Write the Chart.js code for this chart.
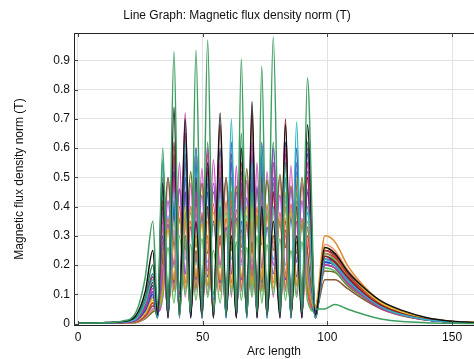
<!DOCTYPE html>
<html>
<head>
<meta charset="utf-8">
<script src="https://cdn.jsdelivr.net/npm/chart.js@4.4.1/dist/chart.umd.min.js"></script>
<style>
html,body{margin:0;padding:0;background:#fff;}
#wrap{width:474px;height:359px;}
</style>
</head>
<body>
<div id="wrap"><canvas id="c" width="474" height="359"></canvas></div>
<script>
// Arc length sample positions (tails, peaks and minima)
const arcLength = [0,10,18,23,27,30,31.9,34,36.1,38.5,40.7,43,45.2,47.3,49.7,52,54.3,57,59.4,61.5,63.5,65.5,67.7,69.8,71.8,73.7,75.8,78.3,81,83.2,85.4,87.7,89.8,92,95.2,99,103,108,115,122,130,140,150,160];

const xTicks = [0,50,100,150];
const yTicks = [0,0.1,0.2,0.3,0.4,0.5,0.6,0.7,0.8,0.9];

// Series values (T)
const s01 = [0.002,0.003,0.009,0.035,0.16,0.35,0.06,0.60,0.04,0.93,0.03,0.30,0.04,0.935,0.03,0.97,0.04,0.40,0.03,0.50,0.04,0.905,0.03,0.45,0.04,0.88,0.03,0.98,0.04,0.55,0.03,0.45,0.04,0.84,0.05,0.05,0.065,0.05,0.03,0.015,0.007,0.003,0.001,0.0];
const s02 = [0.002,0.003,0.007,0.025,0.11,0.25,0.03,0.48,0.02,0.74,0.03,0.70,0.02,0.35,0.03,0.55,0.02,0.72,0.03,0.30,0.02,0.60,0.03,0.76,0.02,0.40,0.03,0.35,0.02,0.68,0.03,0.30,0.02,0.68,0.03,0.26,0.24,0.18,0.12,0.075,0.045,0.02,0.008,0.003];
const s03 = [0.001,0.002,0.005,0.014,0.07,0.15,0.02,0.56,0.03,0.45,0.02,0.62,0.03,0.60,0.02,0.50,0.03,0.45,0.02,0.70,0.03,0.40,0.02,0.55,0.03,0.60,0.02,0.40,0.03,0.50,0.02,0.69,0.03,0.40,0.02,0.22,0.20,0.15,0.095,0.055,0.03,0.013,0.005,0.002];
const s04 = [0.001,0.002,0.004,0.011,0.055,0.12,0.04,0.35,0.02,0.50,0.03,0.72,0.02,0.45,0.04,0.60,0.02,0.55,0.03,0.40,0.02,0.50,0.04,0.62,0.02,0.45,0.03,0.55,0.02,0.60,0.04,0.35,0.02,0.55,0.03,0.20,0.19,0.14,0.09,0.05,0.028,0.012,0.005,0.002];
const s05 = [0.001,0.002,0.004,0.012,0.06,0.14,0.03,0.42,0.04,0.62,0.02,0.65,0.03,0.50,0.02,0.40,0.03,0.68,0.04,0.35,0.03,0.45,0.02,0.72,0.03,0.50,0.04,0.45,0.03,0.70,0.02,0.40,0.03,0.50,0.02,0.23,0.21,0.16,0.10,0.06,0.034,0.015,0.006,0.002];
const s06 = [0.001,0.002,0.003,0.009,0.045,0.10,0.02,0.30,0.03,0.40,0.04,0.50,0.02,0.55,0.03,0.45,0.04,0.50,0.02,0.62,0.03,0.35,0.04,0.58,0.02,0.62,0.03,0.50,0.04,0.55,0.02,0.60,0.03,0.45,0.04,0.21,0.20,0.15,0.095,0.055,0.03,0.013,0.005,0.002];
const s07 = [0.001,0.001,0.003,0.008,0.035,0.08,0.05,0.30,0.06,0.35,0.05,0.40,0.06,0.30,0.05,0.35,0.06,0.42,0.05,0.30,0.06,0.38,0.05,0.40,0.06,0.30,0.05,0.35,0.06,0.45,0.05,0.50,0.06,0.40,0.05,0.26,0.24,0.18,0.115,0.068,0.038,0.017,0.007,0.003];
const s08 = [0.001,0.002,0.003,0.009,0.04,0.09,0.06,0.25,0.05,0.30,0.07,0.35,0.05,0.40,0.06,0.30,0.05,0.35,0.07,0.45,0.05,0.30,0.06,0.35,0.05,0.42,0.07,0.38,0.05,0.40,0.06,0.45,0.05,0.35,0.06,0.30,0.28,0.20,0.125,0.072,0.04,0.018,0.007,0.003];
const s09 = [0.001,0.002,0.004,0.010,0.05,0.11,0.03,0.38,0.02,0.55,0.04,0.45,0.03,0.60,0.02,0.50,0.04,0.40,0.03,0.55,0.02,0.48,0.04,0.50,0.03,0.55,0.02,0.60,0.04,0.45,0.03,0.55,0.02,0.60,0.04,0.22,0.21,0.155,0.098,0.057,0.032,0.014,0.005,0.002];
const s10 = [0.001,0.001,0.003,0.007,0.03,0.07,0.04,0.28,0.03,0.38,0.05,0.30,0.04,0.45,0.03,0.58,0.05,0.30,0.04,0.42,0.03,0.55,0.05,0.35,0.04,0.48,0.03,0.40,0.05,0.35,0.04,0.42,0.03,0.30,0.05,0.25,0.23,0.17,0.105,0.06,0.034,0.015,0.006,0.002];
const s11 = [0.002,0.003,0.006,0.019,0.09,0.20,0.03,0.55,0.02,0.42,0.03,0.38,0.02,0.50,0.03,0.62,0.02,0.48,0.03,0.36,0.02,0.65,0.03,0.40,0.02,0.50,0.03,0.62,0.02,0.40,0.03,0.50,0.02,0.62,0.03,0.20,0.19,0.14,0.09,0.052,0.029,0.013,0.005,0.002];
const s12 = [0.001,0.001,0.002,0.005,0.025,0.06,0.05,0.22,0.06,0.28,0.05,0.35,0.04,0.25,0.06,0.30,0.05,0.38,0.04,0.28,0.06,0.32,0.05,0.28,0.04,0.36,0.06,0.30,0.05,0.32,0.04,0.28,0.06,0.33,0.04,0.15,0.15,0.12,0.08,0.048,0.027,0.012,0.005,0.002];
const s13 = [0.001,0.001,0.002,0.004,0.022,0.05,0.06,0.20,0.05,0.32,0.06,0.25,0.05,0.35,0.06,0.28,0.05,0.30,0.06,0.35,0.05,0.25,0.06,0.30,0.05,0.35,0.06,0.28,0.05,0.30,0.06,0.35,0.05,0.28,0.06,0.20,0.19,0.14,0.09,0.052,0.029,0.013,0.005,0.002];
const s14 = [0.001,0.001,0.003,0.007,0.032,0.07,0.02,0.32,0.04,0.42,0.03,0.38,0.05,0.48,0.03,0.40,0.02,0.52,0.04,0.38,0.03,0.45,0.05,0.42,0.03,0.38,0.02,0.48,0.04,0.42,0.03,0.38,0.05,0.50,0.03,0.24,0.22,0.165,0.105,0.06,0.034,0.015,0.006,0.002];
const s15 = [0.001,0.002,0.005,0.013,0.06,0.13,0.02,0.40,0.03,0.52,0.02,0.58,0.03,0.42,0.02,0.48,0.03,0.60,0.02,0.45,0.03,0.52,0.02,0.50,0.03,0.58,0.02,0.45,0.03,0.62,0.02,0.50,0.03,0.58,0.02,0.25,0.235,0.175,0.115,0.07,0.04,0.018,0.007,0.003];
const s16 = [0.001,0.001,0.003,0.009,0.04,0.09,0.04,0.33,0.03,0.40,0.05,0.44,0.03,0.38,0.04,0.45,0.03,0.40,0.05,0.50,0.04,0.42,0.03,0.48,0.05,0.40,0.03,0.45,0.04,0.50,0.05,0.40,0.03,0.46,0.04,0.21,0.20,0.15,0.095,0.055,0.03,0.013,0.005,0.002];
const s17 = [0.001,0.001,0.001,0.004,0.02,0.045,0.05,0.12,0.32,0.15,0.36,0.12,0.40,0.16,0.34,0.13,0.38,0.15,0.42,0.12,0.35,0.16,0.40,0.13,0.37,0.15,0.41,0.12,0.36,0.16,0.39,0.13,0.35,0.15,0.05,0.22,0.205,0.15,0.095,0.055,0.03,0.013,0.005,0.002];
const s18 = [0.001,0.002,0.003,0.009,0.045,0.10,0.02,0.45,0.10,0.50,0.12,0.40,0.08,0.48,0.14,0.38,0.10,0.52,0.12,0.45,0.09,0.42,0.13,0.50,0.10,0.40,0.12,0.48,0.08,0.44,0.11,0.52,0.09,0.38,0.03,0.23,0.215,0.16,0.10,0.058,0.032,0.014,0.005,0.002];
const s19 = [0.001,0.001,0.002,0.005,0.026,0.06,0.04,0.18,0.42,0.20,0.46,0.17,0.40,0.21,0.44,0.18,0.48,0.20,0.41,0.17,0.45,0.21,0.43,0.18,0.47,0.19,0.40,0.20,0.44,0.17,0.46,0.21,0.42,0.18,0.04,0.20,0.19,0.14,0.09,0.052,0.029,0.013,0.005,0.002];
const s20 = [0.001,0.002,0.004,0.014,0.07,0.16,0.02,0.50,0.06,0.58,0.10,0.45,0.07,0.60,0.12,0.52,0.05,0.48,0.09,0.58,0.11,0.46,0.06,0.55,0.10,0.52,0.07,0.45,0.12,0.58,0.06,0.48,0.09,0.55,0.03,0.24,0.225,0.17,0.11,0.064,0.036,0.016,0.006,0.002];
const s21 = [0.001,0.001,0.002,0.004,0.022,0.05,0.05,0.09,0.26,0.07,0.30,0.10,0.27,0.08,0.29,0.09,0.25,0.07,0.31,0.10,0.28,0.08,0.26,0.09,0.30,0.07,0.27,0.10,0.29,0.08,0.25,0.09,0.28,0.08,0.04,0.19,0.18,0.135,0.085,0.05,0.028,0.012,0.005,0.002];
const s22 = [0.001,0.002,0.004,0.015,0.075,0.17,0.03,0.46,0.07,0.52,0.09,0.55,0.06,0.47,0.10,0.53,0.08,0.50,0.06,0.55,0.09,0.48,0.07,0.52,0.10,0.46,0.08,0.55,0.06,0.50,0.09,0.47,0.07,0.52,0.02,0.22,0.21,0.155,0.10,0.058,0.032,0.014,0.005,0.002];
const s23 = [0.001,0.001,0.001,0.003,0.017,0.04,0.06,0.24,0.50,0.27,0.46,0.25,0.52,0.26,0.48,0.24,0.45,0.27,0.50,0.25,0.47,0.26,0.53,0.24,0.46,0.27,0.49,0.25,0.51,0.26,0.47,0.24,0.50,0.25,0.06,0.18,0.175,0.13,0.085,0.05,0.028,0.012,0.005,0.002];
const s24 = [0.001,0.001,0.002,0.004,0.022,0.05,0.04,0.25,0.10,0.32,0.13,0.38,0.09,0.30,0.12,0.40,0.10,0.28,0.14,0.36,0.08,0.40,0.12,0.32,0.10,0.38,0.13,0.30,0.09,0.36,0.12,0.40,0.10,0.32,0.04,0.27,0.25,0.185,0.12,0.07,0.04,0.018,0.007,0.003];
const s25 = [0.001,0.001,0.002,0.006,0.03,0.07,0.04,0.13,0.36,0.11,0.40,0.14,0.35,0.12,0.38,0.13,0.41,0.11,0.36,0.14,0.39,0.12,0.35,0.13,0.40,0.11,0.37,0.14,0.38,0.12,0.41,0.13,0.36,0.12,0.05,0.26,0.24,0.18,0.115,0.067,0.038,0.017,0.007,0.003];
const s26 = [0.001,0.002,0.003,0.010,0.05,0.11,0.03,0.16,0.34,0.14,0.36,0.17,0.33,0.15,0.37,0.16,0.35,0.14,0.33,0.17,0.36,0.15,0.34,0.16,0.37,0.14,0.33,0.17,0.35,0.15,0.36,0.16,0.34,0.15,0.03,0.21,0.20,0.15,0.095,0.055,0.03,0.013,0.005,0.002];
const s27 = [0.001,0.001,0.003,0.008,0.04,0.09,0.04,0.10,0.50,0.12,0.55,0.09,0.48,0.11,0.53,0.10,0.56,0.12,0.50,0.09,0.54,0.11,0.49,0.10,0.55,0.12,0.52,0.09,0.50,0.11,0.54,0.10,0.48,0.11,0.04,0.21,0.20,0.15,0.095,0.055,0.03,0.013,0.005,0.002];
const s28 = [0.001,0.001,0.002,0.006,0.03,0.07,0.03,0.21,0.37,0.19,0.35,0.22,0.38,0.20,0.36,0.21,0.34,0.19,0.38,0.22,0.35,0.20,0.37,0.21,0.36,0.19,0.38,0.22,0.34,0.20,0.37,0.21,0.35,0.20,0.03,0.22,0.21,0.155,0.098,0.057,0.032,0.014,0.005,0.002];

const seriesList = [s01,s02,s03,s04,s05,s06,s07,s08,s09,s10,s11,s12,s13,s14,s15,s16,s17,s18,s19,s20,s21,s22,s23,s24,s25,s26,s27,s28];
const seriesColors = ['#3f9e62','#111111','#2fb4c6','#c03aa6','#8e1b1b','#2547b8','#e6c42f','#de8a2c','#7a45c2','#d8373a','#2e8b57','#8a5a3b','#e57fb8','#9aa33a','#1d2b78','#5a9fe0','#c9a227','#1f9e9a','#a04fd0','#b0204a','#5cb85c','#3b6fb0','#6b6b1e','#f0906a','#e5572a','#3050d0','#d04fc0','#40c8d8'];

const datasets = seriesList.map((s, k) => ({
  label: 'Line ' + (k + 1),
  data: arcLength.map((x, i) => ({x: x, y: s[i]})),
  borderColor: seriesColors[k],
  borderWidth: 1.5,
  pointRadius: 0,
  fill: false,
  cubicInterpolationMode: 'monotone'
}));

const FONT = '"Liberation Sans", Arial, sans-serif';

const framePlugin = {
  id: 'frame',
  afterDraw(chart) {
    const {ctx, chartArea: a, scales} = chart;
    const x = scales.x, y = scales.y;
    ctx.save();
    ctx.strokeStyle = '#222';
    ctx.lineWidth = 1;
    ctx.beginPath();
    ctx.moveTo(a.left, a.top + 0.5);
    ctx.lineTo(a.right, a.top + 0.5);
    ctx.stroke();
    ctx.strokeStyle = '#444';
    ctx.beginPath();
    xTicks.forEach(v => {
      const px = Math.round(x.getPixelForValue(v)) + 0.5;
      ctx.moveTo(px, a.bottom); ctx.lineTo(px, a.bottom - 4);
      ctx.moveTo(px, a.top); ctx.lineTo(px, a.top + 4);
    });
    yTicks.forEach(v => {
      const py = Math.round(y.getPixelForValue(v)) + 0.5;
      ctx.moveTo(a.left, py); ctx.lineTo(a.left + 4, py);
    });
    ctx.stroke();
    ctx.restore();
  }
};

new Chart(document.getElementById('c'), {
  type: 'line',
  data: {datasets: datasets},
  plugins: [framePlugin],
  options: {
    responsive: false,
    animation: false,
    layout: {padding: 0},
    plugins: {
      legend: {display: false},
      tooltip: {enabled: false},
      title: {
        display: true,
        text: 'Line Graph: Magnetic flux density norm (T)',
        color: '#111',
        font: {family: FONT, size: 12, weight: 'normal'},
        padding: {top: 8, bottom: 10.6}
      }
    },
    scales: {
      x: {
        type: 'linear',
        min: -1.6,
        max: 158.8,
        afterBuildTicks: s => { s.ticks = xTicks.map(v => ({value: v})); },
        afterFit: s => { s.height = 34; },
        grid: {color: '#e2e2e2', drawTicks: false},
        border: {color: '#222', width: 1},
        ticks: {color: '#111', font: {family: FONT, size: 12}, padding: 5, maxRotation: 0},
        title: {display: true, text: 'Arc length', color: '#111', font: {family: FONT, size: 12}, padding: {top: 0, bottom: 0}}
      },
      y: {
        type: 'linear',
        min: -0.005,
        max: 0.994,
        afterBuildTicks: s => { s.ticks = yTicks.map(v => ({value: v})); },
        afterFit: s => { s.width = 74; },
        grid: {color: '#e2e2e2', drawTicks: false},
        border: {color: '#222', width: 1},
        ticks: {
          color: '#111', font: {family: FONT, size: 12}, padding: 4,
          callback: v => (Math.abs(v) < 1e-9 ? '0' : v.toFixed(1))
        },
        title: {display: true, text: 'Magnetic flux density norm (T)', color: '#111', font: {family: FONT, size: 12}, padding: {top: 12.8, bottom: 0}}
      }
    }
  }
});
</script>
</body>
</html>
